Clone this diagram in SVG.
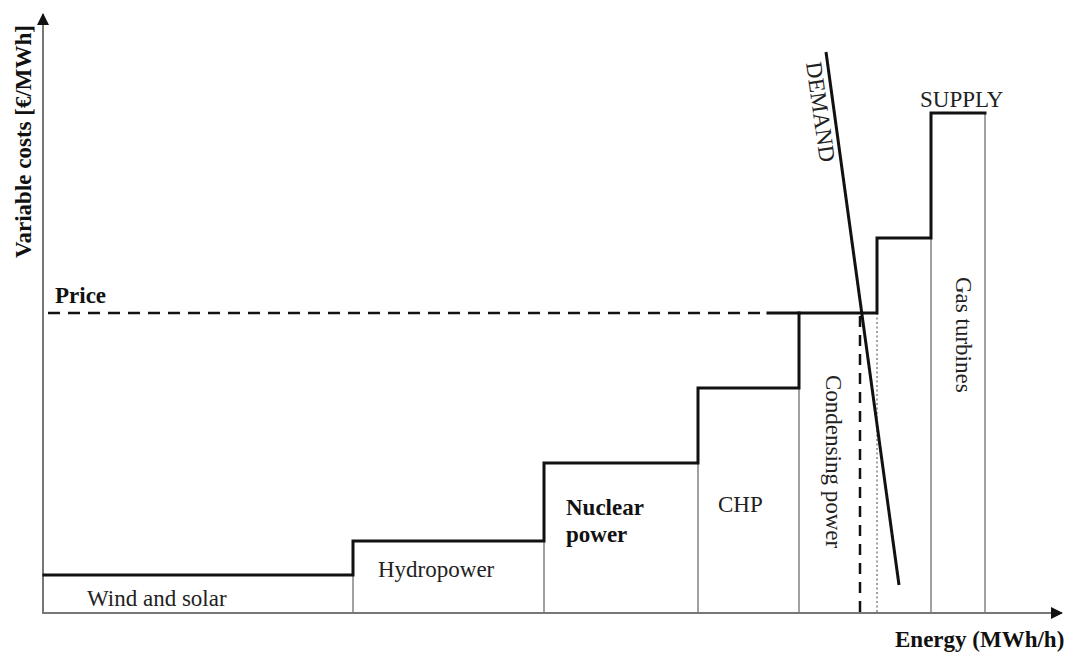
<svg xmlns="http://www.w3.org/2000/svg" width="1068" height="654" viewBox="0 0 1068 654">
<style>
text{font-family:"Liberation Serif","Times New Roman",serif;font-size:23px;fill:#222}
.b{font-weight:bold;fill:#111}
.thick{stroke:#111;stroke-width:3;fill:none;stroke-linecap:square}
.thin{stroke:#8a8a8a;stroke-width:1.6;fill:none}
.axis{stroke:#777;stroke-width:2;fill:none}
</style>
<defs>
<marker id="ah" markerWidth="12" markerHeight="12" refX="11" refY="6" orient="auto" markerUnits="userSpaceOnUse">
<path d="M0,0 L12,6 L0,12 Z" fill="#111"/>
</marker>
</defs>
<rect width="1068" height="654" fill="#fff"/>
<g id="axes">
<line class="axis" x1="43" y1="614" x2="43" y2="14" marker-end="url(#ah)"/>
<line class="axis" x1="43" y1="613" x2="1062" y2="613" marker-end="url(#ah)"/>
<text class="b" transform="translate(31,258) rotate(-90)">Variable costs [€/MWh]</text>
<text class="b" x="895" y="647">Energy (MWh/h)</text>
</g>
<g id="supply">
<line class="thin" x1="353" y1="541" x2="353" y2="612"/>
<line class="thin" x1="544" y1="463" x2="544" y2="612"/>
<line class="thin" x1="698" y1="388" x2="698" y2="612"/>
<line class="thin" x1="799" y1="313" x2="799" y2="612"/>
<line class="thin" x1="877" y1="313" x2="877" y2="612" stroke-dasharray="2 2.5"/>
<line class="thin" x1="931" y1="238" x2="931" y2="612"/>
<line class="thin" x1="985" y1="113" x2="985" y2="612"/>
<path class="thick" d="M44,575 H353 V541 H544 V463 H698 V388 H799 V313 H877 V238 H931 V113 H985"/>
<line class="thick" x1="768" y1="313" x2="799" y2="313" stroke-linecap="butt"/>
<text x="920" y="107">SUPPLY</text>
</g>
<g id="price">
<line x1="48" y1="313" x2="768" y2="313" stroke="#111" stroke-width="2.5" stroke-dasharray="12 8"/>
<text class="b" x="55" y="303">Price</text>
<line x1="860" y1="316" x2="860" y2="612" stroke="#111" stroke-width="2.5" stroke-dasharray="11 8"/>
</g>
<g id="demand">
<line x1="826" y1="52" x2="899" y2="585" stroke="#111" stroke-width="3"/>
<text transform="translate(806,63) rotate(82)">DEMAND</text>
</g>
<g id="labels">
<text x="87" y="606">Wind and solar</text>
<text x="378" y="577">Hydropower</text>
<text class="b" x="566" y="515">Nuclear</text>
<text class="b" x="566" y="542">power</text>
<text x="718" y="512">CHP</text>
<text transform="translate(826,375) rotate(90)">Condensing power</text>
<text transform="translate(956,277) rotate(90)">Gas turbines</text>
</g>
</svg>
